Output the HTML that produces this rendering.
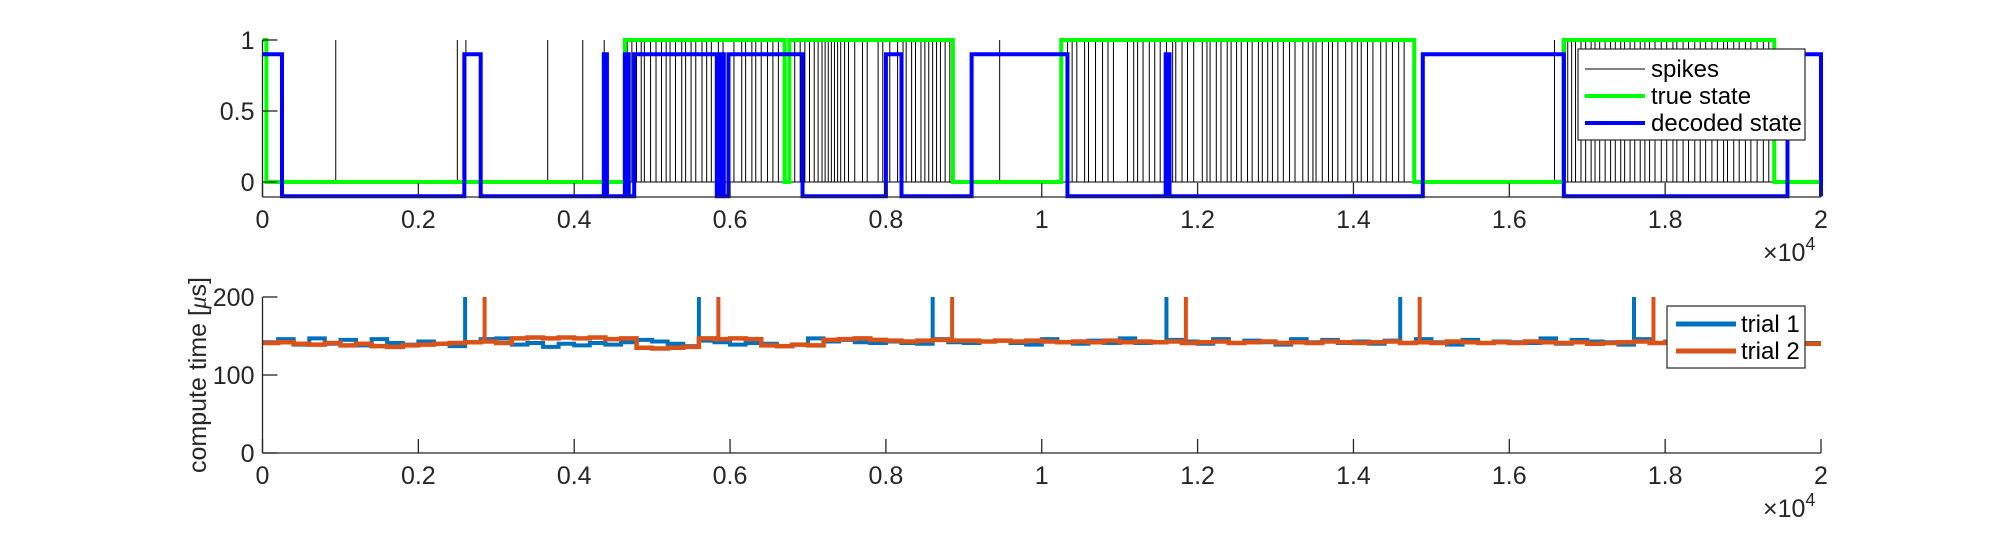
<!DOCTYPE html>
<html><head><meta charset="utf-8"><style>
body{margin:0;background:#fff;}
svg{display:block;font-family:"Liberation Sans",sans-serif;}
</style></head><body>
<svg id="chart" width="2012" height="540"></svg>
<script>
// ---- top panel data ----
const trueTimes = [0, 50, 4650, 6700, 6760, 8860, 10250, 14780, 16700, 19400, 20000];
const trueVals  = [1, 0, 1, 0, 1, 0, 1, 0, 1, 0];
const decTimes = [0, 250, 2590, 2800, 4380, 4420, 4650, 4700, 4770, 5830, 5870, 5920, 5980, 6930, 8000, 8200, 9100, 10330, 11590, 11640, 14890, 16700, 19570, 20000];
const decVals  = [0.9, -0.1, 0.9, -0.1, 0.9, -0.1, 0.9, -0.1, 0.9, -0.1, 0.9, -0.1, 0.9, -0.1, 0.9, -0.1, 0.9, -0.1, 0.9, -0.1, 0.9, -0.1, 0.9, -0.1];
const spikeTimes = [940,2500,2610,3660,4110,4385,4680,4740,4800,4860,4900,4980,5050,5120,5180,5230,5300,5380,5430,5500,5560,5640,5700,5760,5850,5910,6050,6150,6200,6280,6330,6400,6480,6550,6620,6700,6830,6900,6960,7020,7080,7130,7180,7220,7260,7300,7340,7380,7420,7470,7520,7600,7700,7760,7900,7960,8050,8150,8220,8260,8330,8380,8450,8500,8550,8600,8650,8700,8760,8820,9460,10330,10390,10450,10550,10600,10690,10780,10850,10920,11100,11180,11230,11300,11380,11450,11520,11600,11680,11720,11800,11870,11950,12060,12120,12160,12240,12300,12380,12430,12500,12560,12640,12700,12780,12830,12900,12960,13030,13100,13180,13250,13350,13420,13480,13520,13600,13680,13730,13800,13900,13980,14050,14100,14180,14250,14350,14420,14500,14580,14650,16580,16680,16720,16750,16800,16850,16920,16980,17050,17100,17160,17230,17300,17360,17430,17480,17550,17610,17680,17740,17800,17870,17950,18020,18100,18150,18230,18300,18380,18450,18520,18600,18670,18750,18800,18880,18950,19030,19100,19180,19260,19330];
// ---- bottom panel data (step 200 samples) ----
const trial1 = [142,146,139,147,140,145,138,146,141,139,143,140,137,142,146,147,139,141,136,140,138,141,139,142,145,143,140,137,144,142,139,141,140,137,139,147,143,145,142,141,143,141,140,146,142,141,143,144,141,139,146,142,140,144,141,147,141,142,145,143,140,146,141,144,142,139,146,142,145,141,143,140,144,141,146,142,139,145,141,143,142,141,147,140,145,143,142,139,146,141,143,142,140,141,142,143,141,142,140,141];
const trial2 = [141,142,140,139,141,138,140,137,136,138,139,140,141,142,143,141,147,148,147,148,147,148,146,147,135,134,135,136,147,146,147,146,138,137,139,138,145,146,147,145,144,143,144,145,144,144,143,144,143,144,143,142,143,142,144,142,143,142,143,141,142,143,141,142,143,141,142,141,143,142,141,142,143,141,142,141,143,142,141,142,141,143,142,141,142,140,141,142,143,141,142,141,142,141,142,141,142,141,140,140];
const spikes1 = [2600, 5600, 8600, 11600, 14600, 17600];
const spikes2 = [2850, 5850, 8850, 11850, 14850, 17850];
const xTicks = [0,2000,4000,6000,8000,10000,12000,14000,16000,18000,20000];
const xTickLabels = ["0","0.2","0.4","0.6","0.8","1","1.2","1.4","1.6","1.8","2"];
const yTicksTop = [0, 0.5, 1];
const yTicksBot = [0, 100, 200];

const NS = "http://www.w3.org/2000/svg";
const svg = document.getElementById('chart');
function el(tag, attrs, parent){const e=document.createElementNS(NS,tag);for(const k in attrs)e.setAttribute(k,attrs[k]);(parent||svg).appendChild(e);return e;}
const X0=262.5, X1=1821;
const xs = t => X0 + t/20000*(X1-X0);
const yTop = v => 182 - v*142;
const yBot = v => 453 - v*(453-297)/200;
const AX="#262626";

// ----- top panel -----
const gTop = el('g',{});


// spike baseline
const base = el('line',{x1:xs(0),x2:xs(20000),y1:yTop(0),y2:yTop(0),stroke:'#000','stroke-width':1},gTop);


spikeTimes.forEach(t=>{
  const l=el('line',{x1:xs(t),x2:xs(t),y1:yTop(0),y2:yTop(1),stroke:'#000','stroke-width':1},gTop);
  
  
});
function stepPath(times, vals, yf){
  let d='M'+xs(times[0])+','+yf(vals[0]);
  for(let i=0;i<vals.length;i++){d+=' L'+xs(times[i+1])+','+yf(vals[i]); if(i+1<vals.length) d+=' L'+xs(times[i+1])+','+yf(vals[i+1]);}
  return d;
}
const tp = el('path',{d:stepPath(trueTimes,trueVals,yTop),fill:'none',stroke:'#00ff00','stroke-width':4},gTop);


const dp = el('path',{d:stepPath(decTimes,decVals,yTop),fill:'none',stroke:'#0000ff','stroke-width':4},gTop);



function axes(g, yB, yT, yTicks, yf, ylab){
  el('line',{x1:X0,x2:X0,y1:yT,y2:yB,stroke:AX,'stroke-width':1.3},g);
  el('line',{x1:X0,x2:X1,y1:yB,y2:yB,stroke:AX,'stroke-width':1.3},g);
  xTicks.forEach((t,i)=>{
    el('line',{x1:xs(t),x2:xs(t),y1:yB,y2:yB-(yB-yT)*0.09,stroke:AX,'stroke-width':1.3},g);
    const tx=el('text',{x:xs(t),y:yB+31,'text-anchor':'middle','font-size':25,fill:AX},g);
    tx.textContent=xTickLabels[i];
    
    
  });
  yTicks.forEach(v=>{
    el('line',{x1:X0,x2:X0+15,y1:yf(v),y2:yf(v),stroke:AX,'stroke-width':1.3},g);
    const tx=el('text',{x:X0-8,y:yf(v)+9,'text-anchor':'end','font-size':25,fill:AX},g);
    tx.textContent=String(v);
    
    
  });
  const ex=el('text',{x:1763,y:yB+64,'font-size':25,fill:AX},g);
  ex.innerHTML='×10<tspan dy="-11" font-size="18">4</tspan>';
  
  
}
axes(gTop,197,40,yTicksTop,yTop);

// top legend
const lg=el('g',{});


el('rect',{x:1578,y:49,width:227,height:91,fill:'#fff',stroke:AX,'stroke-width':1.2},lg);
[['spikes','#000',1,69],['true state','#00ff00',4,96],['decoded state','#0000ff',4,123]].forEach(e=>{
  el('line',{x1:1585,x2:1645,y1:e[3],y2:e[3],stroke:e[1],'stroke-width':e[2]},lg);
  const t=el('text',{x:1651,y:e[3]+8,'font-size':24,fill:'#000'},lg);t.textContent=e[0];
  
  
});

// ----- bottom panel -----
const gBot = el('g',{});


function seriesPath(arr, sp){
  let pts=[];
  arr.forEach((v,i)=>{pts.push([i*200,v]); pts.push([i*200+200,v]);});
  let d='';
  pts.forEach((p,i)=>{d+=(i?' L':'M')+xs(Math.min(p[0],20000))+','+yBot(p[1]);});
  return d;
}
function spikePaths(g, sp, arr, col, name){
  sp.forEach(t=>{
    const v=arr[Math.floor(t/200)];
    const l=el('line',{x1:xs(t),x2:xs(t),y1:yBot(v),y2:yBot(200),stroke:col,'stroke-width':4},g);
    
    
  });
}
const p1=el('path',{d:seriesPath(trial1),fill:'none',stroke:'#0072BD','stroke-width':4},gBot);


spikePaths(gBot,spikes1,trial1,'#0072BD','trial-1-spike');
const p2=el('path',{d:seriesPath(trial2),fill:'none',stroke:'#D95319','stroke-width':4.5},gBot);


spikePaths(gBot,spikes2,trial2,'#D95319','trial-2-spike');
axes(gBot,453,297,yTicksBot,yBot);
const yl=el('text',{x:0,y:0,'font-size':25,fill:AX,'text-anchor':'middle',transform:'translate(206,375) rotate(-90)'},gBot);
yl.innerHTML='compute time [<tspan font-style="italic" font-family="Liberation Serif">μ</tspan>s]';



const lg2=el('g',{});


el('rect',{x:1667,y:306,width:138,height:62,fill:'#fff',stroke:AX,'stroke-width':1.2},lg2);
[['trial 1','#0072BD',324],['trial 2','#D95319',351]].forEach(e=>{
  el('line',{x1:1676,x2:1736,y1:e[2],y2:e[2],stroke:e[1],'stroke-width':5},lg2);
  const t=el('text',{x:1741,y:e[2]+8,'font-size':24,fill:'#000'},lg2);t.textContent=e[0];
  
  
});
</script>
</body></html>
